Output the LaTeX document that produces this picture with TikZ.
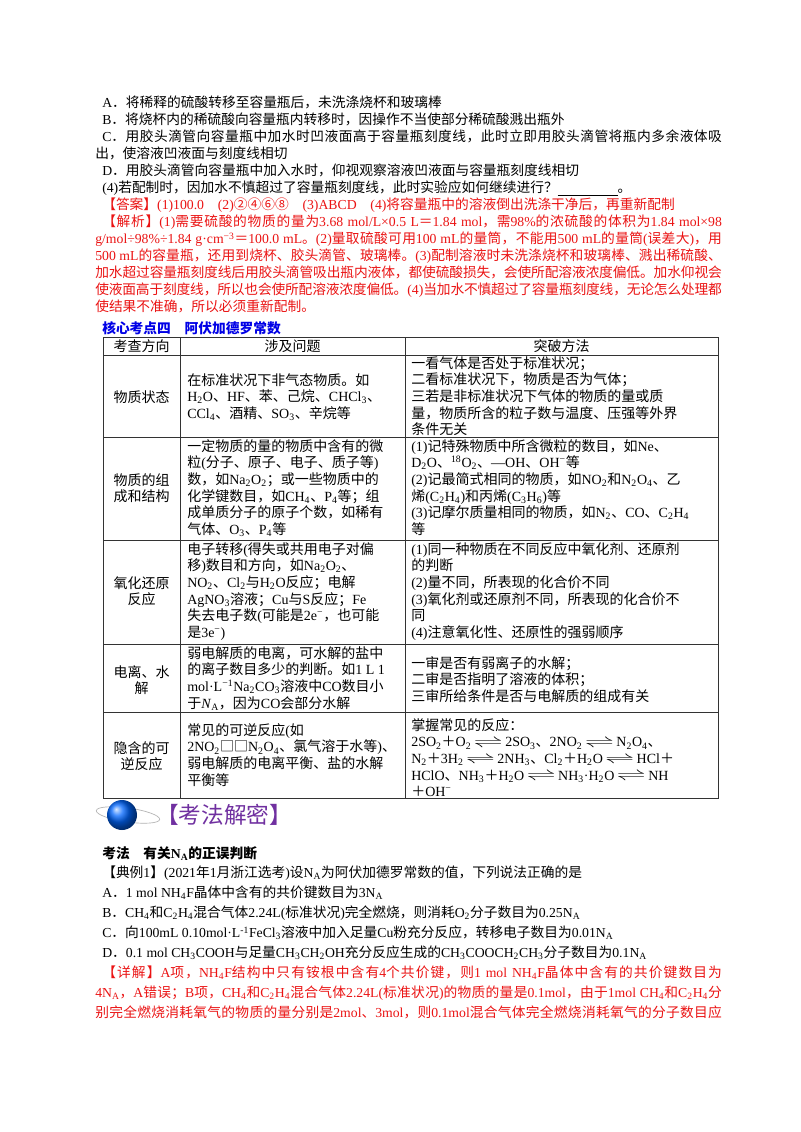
\documentclass[tikz,border=0pt]{standalone}
\usepackage{fontspec}
\usepackage{graphicx}
\setmainfont{Liberation Serif}
\newfontfamily\cjkfam{Noto Sans CJK SC}
\XeTeXinterchartokenstate=1
\newXeTeXintercharclass\cjkc
\newcount\cc
\def\setcjk#1#2{\cc=#1 \loop\XeTeXcharclass\cc=\cjkc \ifnum\cc<#2 \advance\cc by 1 \repeat}
\setcjk{"4E00}{"9FFF}
\setcjk{"3000}{"303F}
\setcjk{"FF00}{"FFEF}
\setcjk{"2460}{"24FF}
\setcjk{"25A0}{"25FF}
\XeTeXinterchartoks 0 \cjkc = {\cjkfam}
\XeTeXinterchartoks 4095 \cjkc = {\cjkfam}
\XeTeXinterchartoks \cjkc 0 = {\rmfamily}
\XeTeXinterchartoks \cjkc 4095 = {\rmfamily}
\XeTeXinterchartoks \cjkc \cjkc = {\hskip 0pt plus 1pt minus 0.6pt\relax}
\newcommand\xsb[1]{\textsubscript{#1}}
\newcommand\xsp[1]{\textsuperscript{#1}}
\newcommand\eqarr{\,\scalebox{2}[1]{$\rightleftharpoons$}\,}
\newcommand\bodyf{\fontsize{10.3}{12.75}\selectfont\tolerance=9999\emergencystretch=2em}
\newcommand\botf{\fontsize{10.3}{15}\selectfont\tolerance=9999\emergencystretch=2em}
\newcommand\tabf{\fontsize{10.5}{12.5}\selectfont}
\definecolor{ansred}{RGB}{235,20,20}
\definecolor{headblue}{RGB}{0,0,230}
\definecolor{titlepurple}{RGB}{112,48,160}
\begin{document}
\begin{tikzpicture}[x=0.75pt,y=-0.75pt,
  para/.style={anchor=north west,inner sep=0pt,text width=470pt,align=justify,font=\bodyf},
  cell/.style={anchor=north west,inner sep=0pt,align=left,font=\tabf},
  ccell/.style={anchor=north,inner sep=0pt,align=center,font=\tabf},
  rule/.style={line width=0.6pt,black!80}]
\fill[white] (0,0) rectangle (800,1132);
\useasboundingbox (0,0) rectangle (800,1132);

\node[para] (top) at (95,96) {%
\hspace*{5.25pt}A．将稀释的硫酸转移至容量瓶后，未洗涤烧杯和玻璃棒\par
\hspace*{5.25pt}B．将烧杯内的稀硫酸向容量瓶内转移时，因操作不当使部分稀硫酸溅出瓶外\par
\hspace*{5.25pt}C．用胶头滴管向容量瓶中加水时凹液面高于容量瓶刻度线，此时立即用胶头滴管将瓶内多余液体吸\linebreak 出，使溶液凹液面与刻度线相切\par
\hspace*{5.25pt}D．用胶头滴管向容量瓶中加入水时，仰视观察溶液凹液面与容量瓶刻度线相切\par
\hspace*{5.25pt}(4)若配制时，因加水不慎超过了容量瓶刻度线，此时实验应如何继续进行？\underline{\hspace{45pt}}。\par
\color{ansred}\hspace*{5.25pt}【答案】(1)100.0　(2)②④⑥⑧　(3)ABCD　(4)将容量瓶中的溶液倒出洗涤干净后，再重新配制\par
\hspace*{5.25pt}【解析】(1)需要硫酸的物质的量为3.68 mol/L×0.5 L＝1.84 mol，需98\%的浓硫酸的体积为1.84 mol×98\linebreak g/mol÷98\%÷1.84 g·cm\xsp{−3}＝100.0 mL。(2)量取硫酸可用100 mL的量筒，不能用500 mL的量筒(误差大)，用\linebreak 500 mL的容量瓶，还用到烧杯、胶头滴管、玻璃棒。(3)配制溶液时未洗涤烧杯和玻璃棒、溅出稀硫酸、\linebreak 加水超过容量瓶刻度线后用胶头滴管吸出瓶内液体，都使硫酸损失，会使所配溶液浓度偏低。加水仰视会\linebreak 使液面高于刻度线，所以也会使所配溶液浓度偏低。(4)当加水不慎超过了容量瓶刻度线，无论怎么处理都\linebreak 使结果不准确，所以必须重新配制。\par};

\node[anchor=north west,inner sep=0pt,font=\bodyf\bfseries,text=headblue] (head) at (102,321) {核心考点四　阿伏加德罗常数};

% table grid
\draw[rule] (103,337) rectangle (718,798);
\foreach \yy in {355,437,540,644,712} \draw[rule] (103,\yy) -- (718,\yy);
\draw[rule] (180,337) -- (180,798);
\draw[rule] (405,337) -- (405,798);

\node[ccell] (h1) at (141.5,339) {考查方向};
\node[ccell] (h2) at (292.5,339) {涉及问题};
\node[ccell] (h3) at (561.5,339) {突破方法};

\node[ccell] (r1a) at (141.5,390) {物质状态};
\node[ccell] (r2a) at (141.5,473) {物质的组\\成和结构};
\node[ccell] (r3a) at (141.5,576) {氧化还原\\反应};
\node[ccell] (r4a) at (141.5,665) {电离、水\\解};
\node[ccell] (r5a) at (141.5,741) {隐含的可\\逆反应};

\node[cell] (r1b) at (187,373) {在标准状况下非气态物质。如\\H\xsb{2}O、HF、苯、己烷、CHCl\xsb{3}、\\CCl\xsb{4}、酒精、SO\xsb{3}、辛烷等};
\node[cell] (r1c) at (411,356) {一看气体是否处于标准状况；\\二看标准状况下，物质是否为气体；\\三若是非标准状况下气体的物质的量或质\\量，物质所含的粒子数与温度、压强等外界\\条件无关};

\node[cell] (r2b) at (187,439) {一定物质的量的物质中含有的微\\粒(分子、原子、电子、质子等)\\数，如Na\xsb{2}O\xsb{2}；或一些物质中的\\化学键数目，如CH\xsb{4}、P\xsb{4}等；组\\成单质分子的原子个数，如稀有\\气体、O\xsb{3}、P\xsb{4}等};
\node[cell] (r2c) at (411,439) {(1)记特殊物质中所含微粒的数目，如Ne、\\D\xsb{2}O、\xsp{18}O\xsb{2}、—OH、OH\xsp{−}等\\(2)记最简式相同的物质，如NO\xsb{2}和N\xsb{2}O\xsb{4}、乙\\烯(C\xsb{2}H\xsb{4})和丙烯(C\xsb{3}H\xsb{6})等\\(3)记摩尔质量相同的物质，如N\xsb{2}、CO、C\xsb{2}H\xsb{4}\\等};

\node[cell] (r3b) at (187,542) {电子转移(得失或共用电子对偏\\移)数目和方向，如Na\xsb{2}O\xsb{2}、\\NO\xsb{2}、Cl\xsb{2}与H\xsb{2}O反应；电解\\AgNO\xsb{3}溶液；Cu与S反应；Fe\\失去电子数(可能是2e\xsp{−}，也可能\\是3e\xsp{−})};
\node[cell] (r3c) at (411,542) {(1)同一种物质在不同反应中氧化剂、还原剂\\的判断\\(2)量不同，所表现的化合价不同\\(3)氧化剂或还原剂不同，所表现的化合价不\\同\\(4)注意氧化性、还原性的强弱顺序};

\node[cell] (r4b) at (187,646) {弱电解质的电离，可水解的盐中\\的离子数目多少的判断。如1 L 1\\mol·L\xsp{−1}Na\xsb{2}CO\xsb{3}溶液中CO数目小\\于\textit{N}\xsb{A}，因为CO会部分水解};
\node[cell] (r4c) at (411,656) {一审是否有弱离子的水解；\\二审是否指明了溶液的体积；\\三审所给条件是否与电解质的组成有关};

\node[cell] (r5b) at (187,723) {常见的可逆反应(如\\2NO\xsb{2}□□N\xsb{2}O\xsb{4}、氯气溶于水等)、\\弱电解质的电离平衡、盐的水解\\平衡等};
\node[cell] (r5c) at (411,718) {掌握常见的反应：\\2SO\xsb{2}＋O\xsb{2}\eqarr 2SO\xsb{3}、2NO\xsb{2}\eqarr N\xsb{2}O\xsb{4}、\\N\xsb{2}＋3H\xsb{2}\eqarr 2NH\xsb{3}、Cl\xsb{2}＋H\xsb{2}O\eqarr HCl＋\\HClO、NH\xsb{3}＋H\xsb{2}O\eqarr NH\xsb{3}·H\xsb{2}O\eqarr NH\\＋OH\xsp{−}};

% section title with globe
\draw[gray!60,line width=0.5pt,rotate around={-8:(128,815)}] (128,815) ellipse (32 and 7);
\shade[ball color=blue!60!cyan] (122,815) circle (15);
\node[anchor=west,inner sep=0pt,font=\fontsize{17}{20}\selectfont,text=titlepurple] (sect) at (156,815) {【考法解密】};

\node[anchor=north west,inner sep=0pt,font=\bodyf\bfseries] (kf) at (102,846) {考法　有关N\xsb{A}的正误判断};

\node[para,font=\botf] (ex) at (95,866) {%
\hspace*{5.25pt}【典例1】(2021年1月浙江选考)设N\xsb{A}为阿伏加德罗常数的值，下列说法正确的是\par
\hspace*{5.25pt}A．1 mol NH\xsb{4}F晶体中含有的共价键数目为3N\xsb{A}\par
\hspace*{5.25pt}B．CH\xsb{4}和C\xsb{2}H\xsb{4}混合气体2.24L(标准状况)完全燃烧，则消耗O\xsb{2}分子数目为0.25N\xsb{A}\par
\hspace*{5.25pt}C．向100mL 0.10mol·L\xsp{-1}FeCl\xsb{3}溶液中加入足量Cu粉充分反应，转移电子数目为0.01N\xsb{A}\par
\hspace*{5.25pt}D．0.1 mol CH\xsb{3}COOH与足量CH\xsb{3}CH\xsb{2}OH充分反应生成的CH\xsb{3}COOCH\xsb{2}CH\xsb{3}分子数目为0.1N\xsb{A}\par
\color{ansred}\parfillskip=0pt\hspace*{5.25pt}【详解】A项，NH\xsb{4}F结构中只有铵根中含有4个共价键，则1 mol NH\xsb{4}F晶体中含有的共价键数目为\linebreak 4N\xsb{A}，A错误；B项，CH\xsb{4}和C\xsb{2}H\xsb{4}混合气体2.24L(标准状况)的物质的量是0.1mol，由于1mol CH\xsb{4}和C\xsb{2}H\xsb{4}分\linebreak 别完全燃烧消耗氧气的物质的量分别是2mol、3mol，则0.1mol混合气体完全燃烧消耗氧气的分子数目应\par};
\end{tikzpicture}
\end{document}
